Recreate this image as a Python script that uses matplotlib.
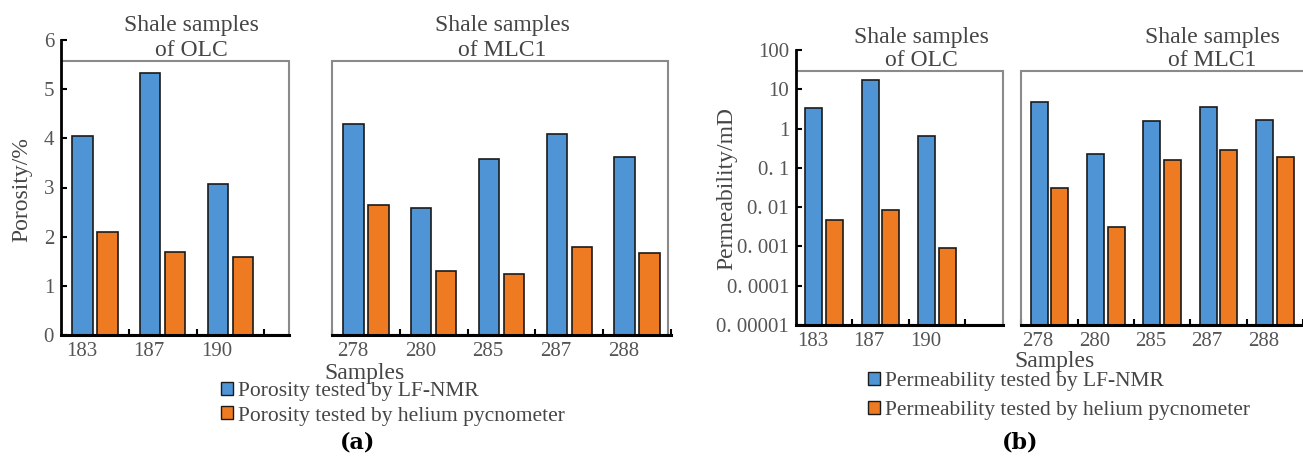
import matplotlib
matplotlib.use("Agg")
import matplotlib.pyplot as plt
from matplotlib.patches import Rectangle, Patch

plt.rcParams['font.family'] = ['Liberation Serif', 'DejaVu Serif']

# samples, OLC group then MLC1 group (one empty slot between groups)
samples = ['183', '187', '190', '278', '280', '285', '287', '288']
slots = [0, 1, 2, 4, 5, 6, 7, 8]

por_nmr = [4.05, 5.32, 3.08, 4.30, 2.58, 3.57, 4.08, 3.63]
por_he = [2.10, 1.68, 1.58, 2.64, 1.31, 1.24, 1.80, 1.66]

perm_nmr = [3.4, 17.5, 0.65, 4.8, 0.22, 1.6, 3.6, 1.7]
perm_he = [0.0048, 0.0085, 0.0009, 0.031, 0.0032, 0.16, 0.28, 0.19]

blue = '#4f94d4'
orange = '#ee7b22'
txt = '#454545'

W, H = 1303, 457
fig = plt.figure(figsize=(W / 100, H / 100), dpi=100)
fig.patch.set_facecolor('white')


def px(x, y):
    return x / W, 1 - y / H


def setup(ax, nmr, he, xmax, olc_end, box_top, mlc_end):
    xb = [s - 0.185 for s in slots]
    xo = [s + 0.185 for s in slots]
    ax.bar(xb, nmr, width=0.3, color=blue, edgecolor='#1a1a1a', linewidth=1.2, zorder=3)
    ax.bar(xo, he, width=0.3, color=orange, edgecolor='#1a1a1a', linewidth=1.2, zorder=3)
    ax.set_xlim(-0.5, xmax)
    ax.set_xticks([s - 0.2 for s in slots])
    ax.set_xticklabels(samples)
    ax.set_xticks([i + 0.5 for i in range(9)], minor=True)
    ax.tick_params(axis='x', which='major', length=0, pad=5, labelsize=15, labelcolor='#555555')
    ax.tick_params(axis='x', which='minor', direction='in', length=4, width=1.5)
    ax.tick_params(axis='y', which='major', direction='in', length=4, width=1.5,
                   labelsize=15, labelcolor='#555555', pad=5)
    ax.tick_params(axis='y', which='minor', length=0)
    for s in ['top', 'right', 'bottom']:
        ax.spines[s].set_visible(False)
    ax.spines['left'].set_linewidth(2)
    ax.patch.set_alpha(0)
    bottom = ax.get_ylim()[0]
    # group boxes
    ax.add_patch(Rectangle((-0.5, bottom), olc_end + 0.5, box_top - bottom, fill=False,
                           edgecolor='#8a8a8a', linewidth=1.5, zorder=2))
    ax.add_patch(Rectangle((3.5, bottom), mlc_end - 3.5, box_top - bottom,
                           fill=False, edgecolor='#8a8a8a', linewidth=1.5, zorder=2))
    # broken x axis line
    tr = ax.get_xaxis_transform()
    ax.plot([-0.5, olc_end], [0, 0], color='black', lw=2.2, transform=tr, clip_on=False, zorder=4)
    ax.plot([3.5, 8.5], [0, 0], color='black', lw=2.2, transform=tr, clip_on=False, zorder=4)


ax1 = fig.add_axes([61 / W, (H - 335) / H, 610 / W, 295 / H])
ax1.set_ylim(0, 6)
ax1.set_yticks(range(7))
setup(ax1, por_nmr, por_he, 8.5, 2.87, 5.58, 8.45)

ax2 = fig.add_axes([796 / W, (H - 325) / H, 507 / W, 275 / H])
ax2.set_yscale('log')
ax2.set_ylim(1e-5, 100)
ax2.set_yticks([100, 10, 1, 0.1, 0.01, 0.001, 0.0001, 0.00001])
ax2.set_yticklabels(['100', '10', '1', '0. 1', '0. 01', '0. 001', '0. 0001', '0. 00001'])
setup(ax2, perm_nmr, perm_he, 8.39, 3.17, 30, 9.5)

# group titles
titles = [(191, 25, 50, 'of OLC'), (502, 25, 50, 'of MLC1'),
          (921, 38, 60, 'of OLC'), (1212, 38, 60, 'of MLC1')]
for x, y1, y2, sub in titles:
    fig.text(*px(x, y1), 'Shale samples', ha='center', va='center', fontsize=17, color=txt)
    fig.text(*px(x, y2), sub, ha='center', va='center', fontsize=17, color=txt)

# axis titles
fig.text(*px(22, 190), 'Porosity/%', rotation=90, ha='center', va='center', fontsize=17, color=txt)
fig.text(*px(727, 188), 'Permeability/mD', rotation=90, ha='center', va='center', fontsize=17, color=txt)
fig.text(*px(365, 374), 'Samples', ha='center', va='center', fontsize=17, color=txt)
fig.text(*px(1054, 362), 'Samples', ha='center', va='center', fontsize=17, color=txt)


# legends
def legend(labels, x, y, spacing):
    handles = [Patch(facecolor=blue, edgecolor='#1a1a1a', lw=1.0),
               Patch(facecolor=orange, edgecolor='#1a1a1a', lw=1.0)]
    fig.legend(handles, labels, loc='upper left', bbox_to_anchor=px(x, y), frameon=False,
               handlelength=0.55, handleheight=0.55, handletextpad=0.25,
               labelspacing=spacing, borderpad=0, borderaxespad=0, fontsize=15.5,
               labelcolor=txt)


legend(['Porosity tested by LF-NMR', 'Porosity tested by helium pycnometer'], 221, 382, 0.25)
legend(['Permeability tested by LF-NMR', 'Permeability tested by helium pycnometer'], 868, 372, 0.45)

fig.text(*px(358, 443), '(a)', ha='center', va='center', fontsize=16, fontweight='bold',
         family='DejaVu Serif', color='black')
fig.text(*px(1020, 443), '(b)', ha='center', va='center', fontsize=16, fontweight='bold',
         family='DejaVu Serif', color='black')

fig.savefig('out.png', dpi=100)
